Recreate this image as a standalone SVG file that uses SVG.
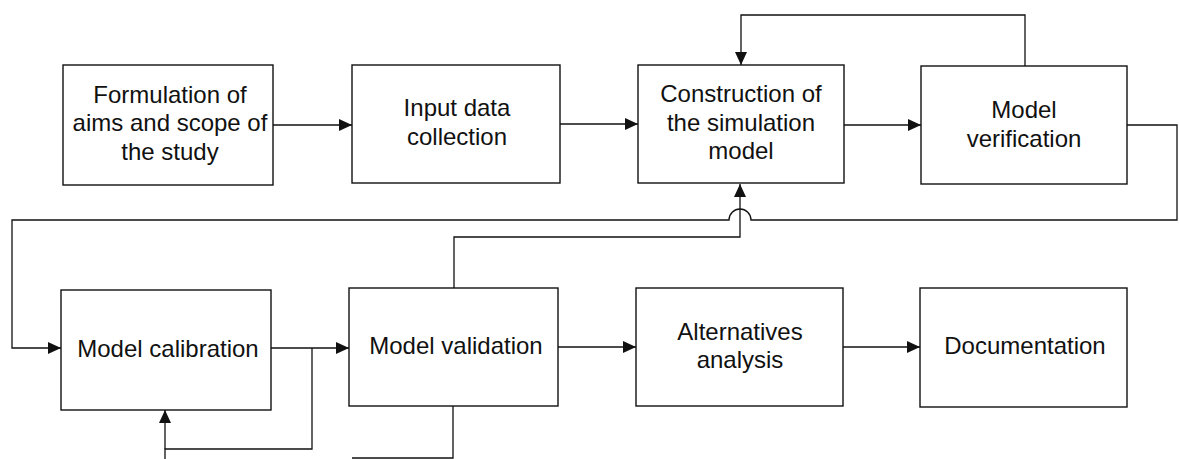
<svg xmlns="http://www.w3.org/2000/svg" width="1179" height="459" viewBox="0 0 1179 459">
<style>
.box{fill:#fff;stroke:#111;stroke-width:1.4}
.lbl{font-family:"Liberation Sans",Arial,sans-serif;font-size:24px;fill:#111;text-anchor:middle}
.con{fill:none;stroke:#111;stroke-width:1.3}
</style>
<defs>
<marker id="arr" markerWidth="13" markerHeight="12" refX="13" refY="6" orient="auto" markerUnits="userSpaceOnUse">
<path d="M0,0 L13,6 L0,12 Z" fill="#111"/>
</marker>
</defs>
<rect width="1179" height="459" fill="#fff"/>
<g id="connectors">
<path class="con" d="M273,125 H352" marker-end="url(#arr)"/>
<path class="con" d="M560,124 H638" marker-end="url(#arr)"/>
<path class="con" d="M844,125 H921" marker-end="url(#arr)"/>
<path class="con" d="M1025,66 V15 H741 V65" marker-end="url(#arr)"/>
<path class="con" d="M1127,125 H1177 V220 H751 A11,11 0 0 0 729,220 H12 V348 H61" marker-end="url(#arr)"/>
<path class="con" d="M454,288 V237 H740 V184" marker-end="url(#arr)"/>
<path class="con" d="M271,348 H349" marker-end="url(#arr)"/>
<path class="con" d="M312,348 V449 H165 V459"/>
<path class="con" d="M165,449 V410" marker-end="url(#arr)"/>
<path class="con" d="M453,406 V458 H352"/>
<path class="con" d="M558,347 H636" marker-end="url(#arr)"/>
<path class="con" d="M843,347 H920" marker-end="url(#arr)"/>
</g>
<g id="n1"><rect class="box" x="63" y="65" width="210" height="120"/>
<text class="lbl" x="170" y="102.5">Formulation of</text>
<text class="lbl" x="170" y="131">aims and scope of</text>
<text class="lbl" x="170" y="159.5">the study</text></g>
<g id="n2"><rect class="box" x="352" y="65" width="208" height="118"/>
<text class="lbl" x="457" y="116">Input data</text>
<text class="lbl" x="457" y="145">collection</text></g>
<g id="n3"><rect class="box" x="638" y="65" width="206" height="118"/>
<text class="lbl" x="741" y="102">Construction of</text>
<text class="lbl" x="741" y="130.5">the simulation</text>
<text class="lbl" x="741" y="159">model</text></g>
<g id="n4"><rect class="box" x="921" y="66" width="206" height="118"/>
<text class="lbl" x="1024" y="118">Model</text>
<text class="lbl" x="1024" y="146.5">verification</text></g>
<g id="n5"><rect class="box" x="61" y="290" width="210" height="120"/>
<text class="lbl" x="168" y="357">Model calibration</text></g>
<g id="n6"><rect class="box" x="349" y="288" width="209" height="118"/>
<text class="lbl" x="456" y="354">Model validation</text></g>
<g id="n7"><rect class="box" x="636" y="288" width="207" height="118"/>
<text class="lbl" x="740" y="339.5">Alternatives</text>
<text class="lbl" x="740" y="368">analysis</text></g>
<g id="n8"><rect class="box" x="920" y="288" width="207" height="119"/>
<text class="lbl" x="1025" y="354">Documentation</text></g>
</svg>
